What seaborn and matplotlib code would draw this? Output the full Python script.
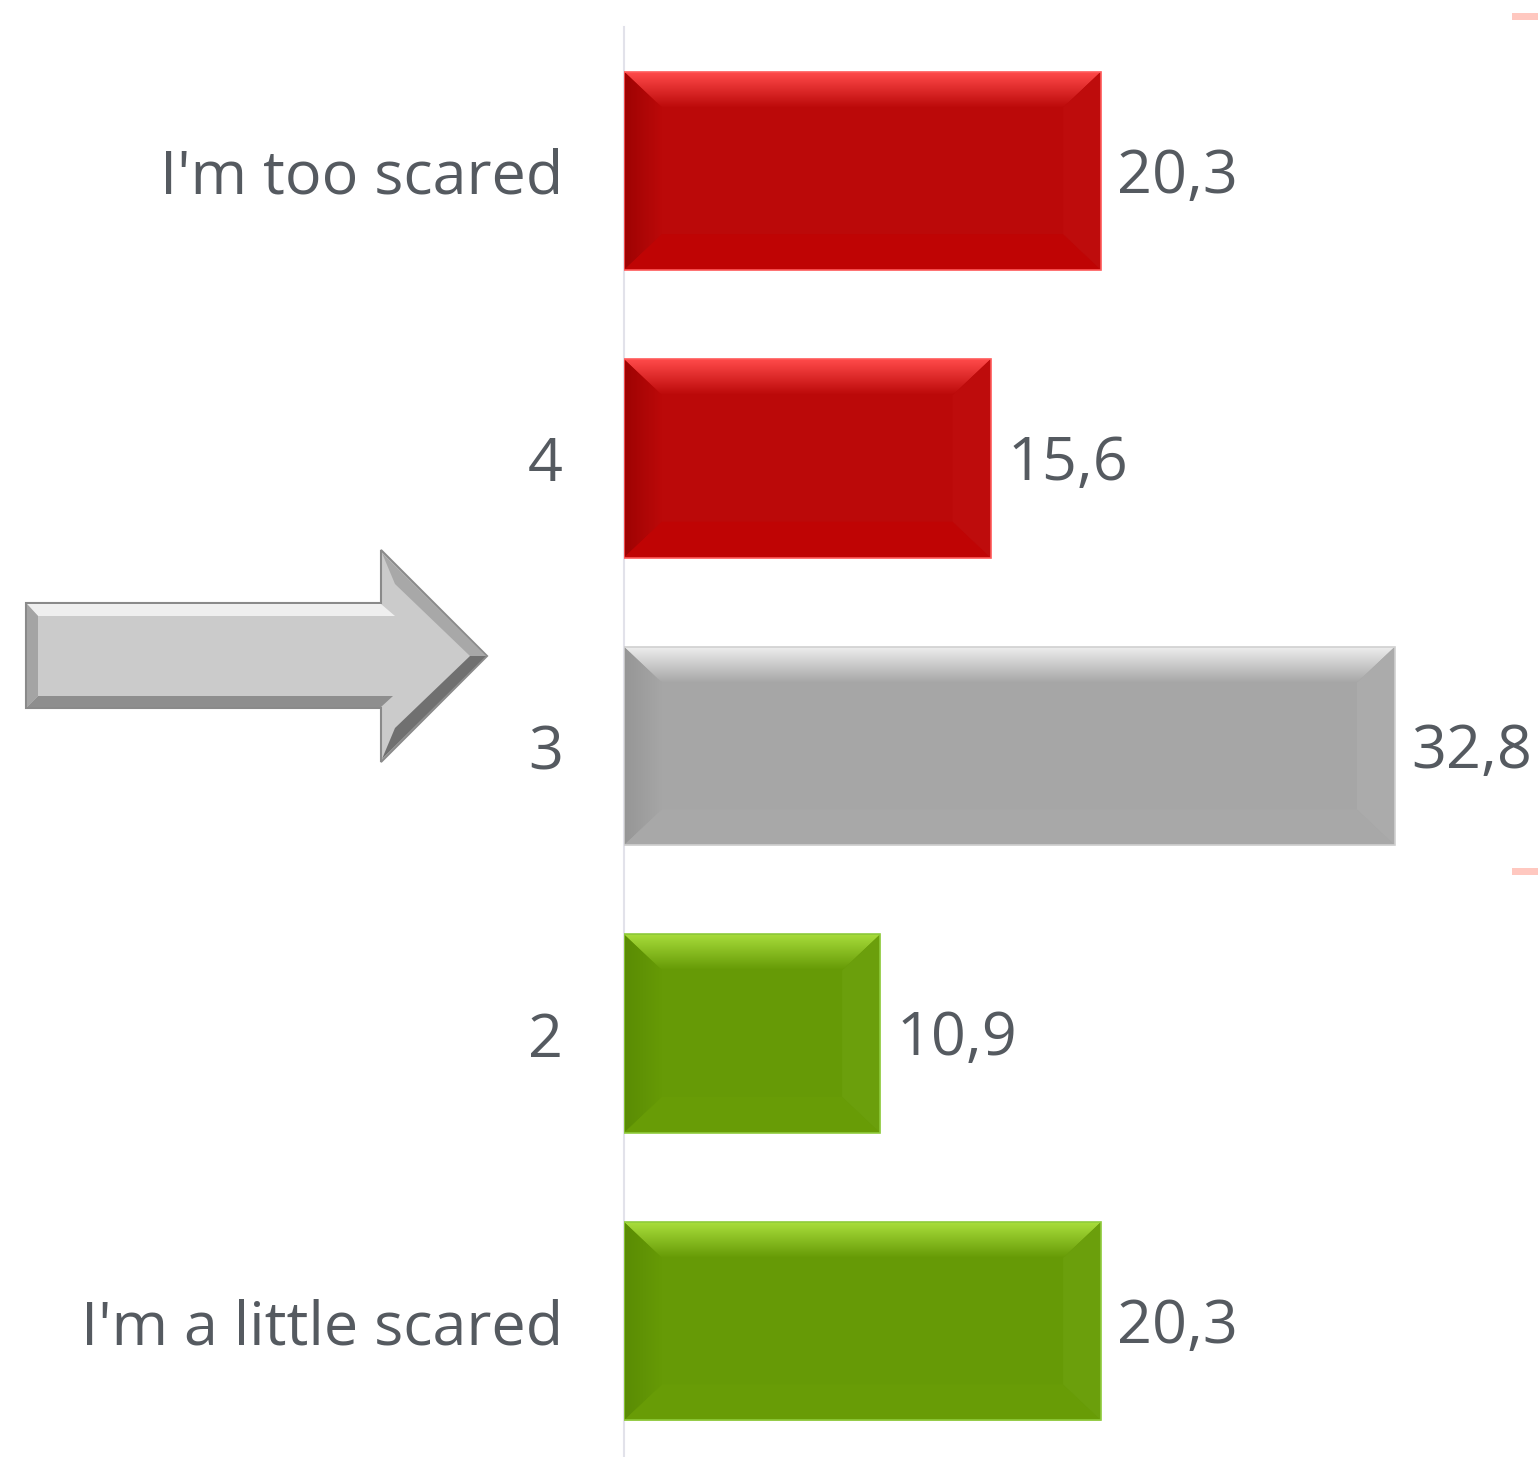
import matplotlib
matplotlib.use("Agg")
import matplotlib.pyplot as plt
import matplotlib.colors as mcolors
from matplotlib.patches import Polygon, Rectangle
import numpy as np
import pandas as pd
import seaborn as sns

# dati
categories = ["I'm too scared", "4", "3", "2", "I'm a little scared"]
values = [20.3, 15.6, 32.8, 10.9, 20.3]
value_labels = ["20,3", "15,6", "32,8", "10,9", "20,3"]

# tinte per gruppo: (corpo, bordo alto, bordo sinistro, basso, destro, contorno)
red = ("#BB0909", "#FF4A4A", "#9E0303", "#BF0404", "#BE0C0C", "#FF5A5A")
grey = ("#A6A6A6", "#EDEDED", "#969696", "#A8A8A8", "#ABABAB", "#D0D0D0")
green = ("#669A06", "#A9DE3C", "#5A8C04", "#689C06", "#6B9F0C", "#8FCB3C")
bar_styles = [red, red, grey, green, green]

sns.set_theme(style="white")
plt.rcParams["font.family"] = ["Open Sans", "DejaVu Sans"]
text_col = "#555A60"
fsize = 44

df = pd.DataFrame({"cat": categories, "val": values})

fig = plt.figure(figsize=(15.38, 14.57), dpi=100)
ax = fig.add_axes([624 / 1538, 0, 1 - 624 / 1538, (1457 - 27) / 1457])

sns.barplot(data=df, x="val", y="cat", hue="cat", palette=[s[0] for s in bar_styles],
            width=0.69, legend=False, ax=ax, saturation=1, orient="h")

xmax = (1538 - 624) / 23.5
ax.set_xlim(0, xmax)
ax.set_ylim(-0.5 + 1430 / 287.6, -0.5)

dx = 38 / 23.5
dy = 36 / 287.6


def grad(c1, c2, n, horizontal=False):
    a = np.array(mcolors.to_rgba(c1))
    b = np.array(mcolors.to_rgba(c2))
    t = np.linspace(0, 1, n)[:, None]
    arr = a * (1 - t) + b * t
    if horizontal:
        return arr[None, :, :]
    return arr[:, None, :]


for p, st in zip(ax.patches, bar_styles):
    x0, w, y0, h = p.get_x(), p.get_width(), p.get_y(), p.get_height()
    body, top_c, left_c, bot_c, right_c, edge_c = st
    p.set_edgecolor("none")
    p.set_zorder(2)
    # bordo alto con sfumatura
    top = Polygon([(x0, y0), (x0 + w, y0), (x0 + w - dx, y0 + dy), (x0 + dx, y0 + dy)],
                  closed=True, facecolor="none", edgecolor="none", zorder=3)
    ax.add_patch(top)
    im = ax.imshow(grad(top_c, body, 64), extent=(x0, x0 + w, y0 + dy, y0),
                   aspect="auto", origin="upper", zorder=3, interpolation="bilinear")
    im.set_clip_path(top)
    # bordo sinistro
    left = Polygon([(x0, y0), (x0 + dx, y0 + dy), (x0 + dx, y0 + h - dy), (x0, y0 + h)],
                   closed=True, facecolor="none", edgecolor="none", zorder=3)
    ax.add_patch(left)
    im2 = ax.imshow(grad(left_c, body, 64, horizontal=True), extent=(x0, x0 + dx, y0 + h, y0),
                    aspect="auto", origin="upper", zorder=3, interpolation="bilinear")
    im2.set_clip_path(left)
    # basso e destra
    ax.add_patch(Polygon([(x0, y0 + h), (x0 + w, y0 + h), (x0 + w - dx, y0 + h - dy), (x0 + dx, y0 + h - dy)],
                         closed=True, facecolor=bot_c, edgecolor="none", zorder=3))
    ax.add_patch(Polygon([(x0 + w, y0), (x0 + w - dx, y0 + dy), (x0 + w - dx, y0 + h - dy), (x0 + w, y0 + h)],
                         closed=True, facecolor=right_c, edgecolor="none", zorder=3))
    # contorno
    ax.add_patch(Rectangle((x0, y0), w, h, facecolor="none", edgecolor=edge_c, lw=1.2, zorder=4))

ax.set_xlim(0, xmax)
ax.set_ylim(-0.5 + 1430 / 287.6, -0.5)

for i, (v, lab) in enumerate(zip(values, value_labels)):
    ax.text(v + 0.7, i + 0.02, lab, va="center", ha="left", fontsize=fsize, color=text_col, zorder=5)

ax.set_xlabel("")
ax.set_ylabel("")
ax.set_xticks([])
ax.tick_params(axis="y", length=0, pad=44, labelsize=fsize, labelcolor=text_col)
for s in ["top", "right", "bottom"]:
    ax.spines[s].set_visible(False)
ax.spines["left"].set_color("#E2E2EA")
ax.spines["left"].set_linewidth(1.5)
ax.patch.set_alpha(0)

# freccia grigia a sinistra (coordinate figura in pixel)
W, H = 1538, 1457


def fp(pts):
    return [(x / W, 1 - y / H) for x, y in pts]


arrow_pts = [(26, 603), (381, 603), (381, 550), (487, 656), (381, 762), (381, 708), (26, 708)]
fig.patches.append(Polygon(fp(arrow_pts), closed=True, facecolor="#CBCBCB", edgecolor="#8A8A8A",
                           lw=1.5, transform=fig.transFigure, zorder=1))
# rilievo freccia
fig.patches.append(Polygon(fp([(27, 604), (381, 604), (395, 616), (38, 616)]), closed=True,
                           facecolor="#EFEFEF", edgecolor="none", transform=fig.transFigure, zorder=2))
fig.patches.append(Polygon(fp([(27, 707), (381, 707), (393, 696), (38, 696)]), closed=True,
                           facecolor="#8E8E8E", edgecolor="none", transform=fig.transFigure, zorder=2))
fig.patches.append(Polygon(fp([(27, 604), (38, 616), (38, 696), (27, 707)]), closed=True,
                           facecolor="#A4A4A4", edgecolor="none", transform=fig.transFigure, zorder=2))
fig.patches.append(Polygon(fp([(382, 553), (486, 656), (470, 656), (395, 584)]), closed=True,
                           facecolor="#A8A8A8", edgecolor="none", transform=fig.transFigure, zorder=2))
fig.patches.append(Polygon(fp([(382, 759), (486, 656), (470, 656), (395, 728)]), closed=True,
                           facecolor="#707070", edgecolor="none", transform=fig.transFigure, zorder=2))

# segni rosa tagliati a destra
for yy in (13, 868):
    fig.patches.append(Rectangle((1512 / W, 1 - (yy + 7) / H), 26 / W, 7 / H, facecolor="#FFC8C0",
                                 edgecolor="none", transform=fig.transFigure))

fig.savefig("out.png", dpi=100)
